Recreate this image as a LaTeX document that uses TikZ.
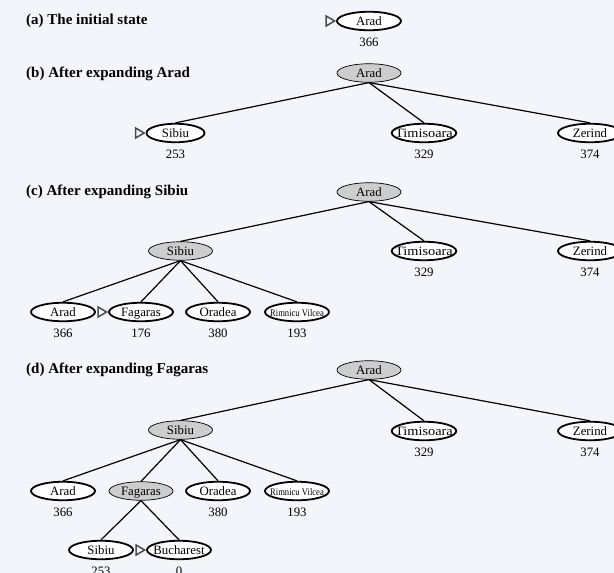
\documentclass[tikz,border=0pt]{standalone}
\usepackage{fontspec}
\setmainfont{Liberation Serif}
\usetikzlibrary{positioning,shapes.geometric}

\definecolor{paper}{HTML}{F4F5FA}
\definecolor{expanded}{HTML}{CDCDCD}

\begin{document}
\begin{tikzpicture}[x=1pt, y=1pt,
    frontier/.style={ellipse, draw, line width=1.8pt, fill=white,
        minimum width=64pt, minimum height=18.5pt, inner ysep=0pt, inner xsep=-6pt,
        text height=8.6pt, text depth=0pt,
        font=\fontsize{12.8}{14}\selectfont},
    closed/.style={frontier, line width=0.7pt, fill=expanded},
    hval/.style={inner sep=0pt, font=\fontsize{12.8}{14}\selectfont},
    heading/.style={anchor=base west, inner sep=0pt, font=\fontsize{15}{17}\selectfont\bfseries},
    edge/.style={line width=1.2pt},
    pointer/.style={draw=black!70, line width=1.5pt, line join=miter}
]

% Background
\fill[paper] (0,0) rectangle (614,-573);
\useasboundingbox (0,0) rectangle (614,-573);

% Headings
\node[heading] (ha) at (26,-24)  {(a) The initial state};
\node[heading] (hb) at (26,-77)  {(b) After expanding Arad};
\node[heading] (hc) at (26,-195) {(c) After expanding Sibiu};
\node[heading] (hd) at (26,-373) {(d) After expanding Fagaras};

% (a) root only
\node[frontier] (a-arad) at (369,-21) {Arad};
\node[hval, below=7pt of a-arad] (a-arad-h) {366};

% (b) root expanded
\node[closed]   (b-arad)  at (369,-73)  {Arad};
\node[frontier, minimum width=58pt] (b-sibiu) at (175.5,-133) {Sibiu};
\node[frontier] (b-timis) at (424,-133) {\scalebox{1.12}[1]{Timisoara}};
\node[frontier] (b-zer)   at (590,-133) {Zerind};
\node[hval, below=7pt of b-sibiu] (b-sibiu-h) {253};
\node[hval, below=7pt of b-timis] (b-timis-h) {329};
\node[hval, below=7pt of b-zer]   (b-zer-h)   {374};

\foreach \child in {sibiu,timis,zer}
    \draw[edge] (b-arad.south) -- (b-\child.north);

% (c) Sibiu expanded
\node[closed]   (c-arad)  at (369,-192)  {Arad};
\node[closed]   (c-sibiu) at (180.5,-251) {Sibiu};
\node[frontier] (c-timis) at (424,-251)  {\scalebox{1.12}[1]{Timisoara}};
\node[frontier] (c-zer)   at (590,-251)  {Zerind};
\node[hval, below=7pt of c-timis] (c-timis-h) {329};
\node[hval, below=7pt of c-zer]   (c-zer-h)   {374};

\node[frontier] (c-arad2) at (63,-312)  {Arad};
\node[frontier] (c-fag)   at (141,-312) {Fagaras};
\node[frontier] (c-ora)   at (218,-312) {Oradea};
\node[frontier] (c-rim)   at (297,-312) {\fontsize{10}{12}\selectfont\scalebox{0.86}[1]{Rimnicu Vilcea}};
\node[hval, below=7pt of c-arad2] (c-arad2-h) {366};
\node[hval, below=7pt of c-fag]   (c-fag-h)   {176};
\node[hval, below=7pt of c-ora]   (c-ora-h)   {380};
\node[hval, below=7pt of c-rim]   (c-rim-h)   {193};

\foreach \child in {sibiu,timis,zer}
    \draw[edge] (c-arad.south) -- (c-\child.north);
\foreach \child in {arad2,fag,ora,rim}
    \draw[edge] (c-sibiu.south) -- (c-\child.north);

% (d) Fagaras expanded
\node[closed]   (d-arad)  at (369,-370)  {Arad};
\node[closed]   (d-sibiu) at (180.5,-430) {Sibiu};
\node[frontier] (d-timis) at (424,-431)  {\scalebox{1.12}[1]{Timisoara}};
\node[frontier] (d-zer)   at (590,-431)  {Zerind};
\node[hval, below=7pt of d-timis] (d-timis-h) {329};
\node[hval, below=7pt of d-zer]   (d-zer-h)   {374};

\node[frontier] (d-arad2) at (63,-491)  {Arad};
\node[closed]   (d-fag)   at (141,-491) {Fagaras};
\node[frontier] (d-ora)   at (218,-491) {Oradea};
\node[frontier] (d-rim)   at (297,-491) {\fontsize{10}{12}\selectfont\scalebox{0.86}[1]{Rimnicu Vilcea}};
\node[hval, below=7pt of d-arad2] (d-arad2-h) {366};
\node[hval, below=7pt of d-ora]   (d-ora-h)   {380};
\node[hval, below=7pt of d-rim]   (d-rim-h)   {193};

\node[frontier] (d-sibiu2) at (101,-550) {Sibiu};
\node[frontier] (d-buch)   at (179,-550) {Bucharest};
\node[hval, below=7pt of d-sibiu2] (d-sibiu2-h) {253};
\node[hval, below=7pt of d-buch]   (d-buch-h)   {0};

\foreach \child in {sibiu,timis,zer}
    \draw[edge] (d-arad.south) -- (d-\child.north);
\foreach \child in {arad2,fag,ora,rim}
    \draw[edge] (d-sibiu.south) -- (d-\child.north);
\foreach \child in {sibiu2,buch}
    \draw[edge] (d-fag.south) -- (d-\child.north);

% Pointers to the next node to expand
\foreach \target in {a-arad,b-sibiu,c-fag,d-buch}
    \draw[pointer] ([xshift=-1.5pt]\target.west) -- ++(-8.5,5) -- ++(0,-10) -- cycle;

\end{tikzpicture}
\end{document}
